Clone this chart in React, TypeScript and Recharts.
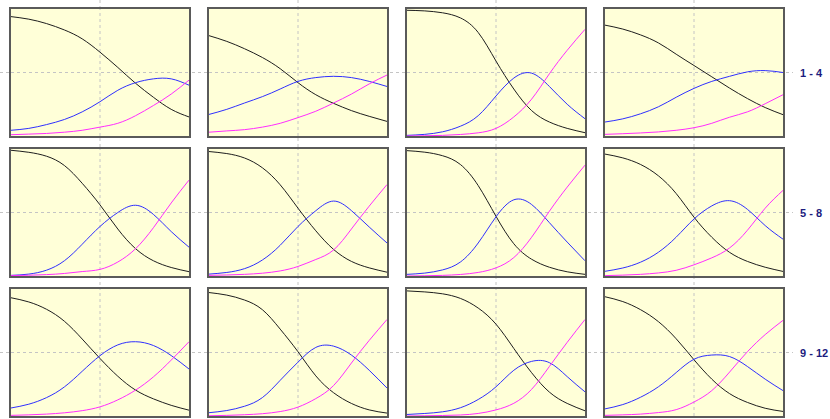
import React from "react";
import { LineChart, Line, XAxis, YAxis, ReferenceLine } from "recharts";

const X_POINTS = [0, 0.1, 0.2, 0.3, 0.4, 0.5, 0.6, 0.7, 0.8, 0.9, 1];

const BLACK = [
  [0.94, 0.92, 0.885, 0.835, 0.765, 0.66, 0.54, 0.415, 0.305, 0.21, 0.15],
  [0.79, 0.745, 0.687, 0.618, 0.53, 0.42, 0.325, 0.257, 0.2, 0.155, 0.115],
  [0.99, 0.985, 0.97, 0.93, 0.815, 0.59, 0.37, 0.2, 0.11, 0.06, 0.026],
  [0.873, 0.842, 0.796, 0.733, 0.644, 0.555, 0.466, 0.377, 0.295, 0.224, 0.168],
  [0.99, 0.974, 0.943, 0.87, 0.73, 0.56, 0.37, 0.215, 0.12, 0.067, 0.034],
  [0.98, 0.964, 0.929, 0.852, 0.718, 0.534, 0.356, 0.209, 0.115, 0.064, 0.03],
  [0.987, 0.975, 0.947, 0.878, 0.712, 0.47, 0.254, 0.132, 0.069, 0.033, 0.013],
  [0.96, 0.93, 0.878, 0.789, 0.649, 0.463, 0.305, 0.186, 0.115, 0.069, 0.036],
  [0.931, 0.898, 0.84, 0.746, 0.606, 0.453, 0.313, 0.204, 0.135, 0.084, 0.046],
  [0.972, 0.952, 0.913, 0.837, 0.684, 0.506, 0.316, 0.183, 0.099, 0.048, 0.023],
  [0.985, 0.977, 0.962, 0.926, 0.85, 0.723, 0.532, 0.341, 0.188, 0.099, 0.041],
  [0.939, 0.901, 0.837, 0.743, 0.608, 0.443, 0.29, 0.176, 0.107, 0.061, 0.036],
];

const BLUE = [
  [0.045, 0.06, 0.09, 0.13, 0.19, 0.27, 0.36, 0.42, 0.45, 0.45, 0.4],
  [0.17, 0.21, 0.26, 0.31, 0.37, 0.43, 0.46, 0.47, 0.46, 0.43, 0.39],
  [0.005, 0.013, 0.033, 0.077, 0.16, 0.315, 0.456, 0.495, 0.39, 0.25, 0.136],
  [0.11, 0.135, 0.175, 0.23, 0.305, 0.375, 0.43, 0.47, 0.505, 0.515, 0.5],
  [0.005, 0.015, 0.046, 0.12, 0.25, 0.39, 0.5, 0.557, 0.485, 0.35, 0.227],
  [0.015, 0.028, 0.058, 0.126, 0.242, 0.39, 0.514, 0.59, 0.515, 0.386, 0.26],
  [0.013, 0.023, 0.048, 0.11, 0.26, 0.466, 0.6, 0.563, 0.42, 0.267, 0.12],
  [0.037, 0.063, 0.109, 0.187, 0.306, 0.449, 0.552, 0.593, 0.525, 0.397, 0.29],
  [0.063, 0.093, 0.145, 0.229, 0.352, 0.475, 0.56, 0.585, 0.555, 0.476, 0.37],
  [0.026, 0.043, 0.077, 0.145, 0.281, 0.424, 0.54, 0.55, 0.48, 0.36, 0.22],
  [0.012, 0.02, 0.033, 0.065, 0.13, 0.23, 0.36, 0.43, 0.42, 0.31, 0.19],
  [0.056, 0.09, 0.148, 0.23, 0.342, 0.447, 0.48, 0.468, 0.39, 0.29, 0.2],
];

const MAGENTA = [
  [0.01, 0.015, 0.02, 0.03, 0.045, 0.07, 0.1, 0.16, 0.24, 0.33, 0.44],
  [0.03, 0.04, 0.05, 0.07, 0.1, 0.145, 0.195, 0.26, 0.33, 0.41, 0.48],
  [0, 0.002, 0.005, 0.012, 0.025, 0.06, 0.15, 0.29, 0.49, 0.675, 0.84],
  [0.013, 0.018, 0.024, 0.032, 0.045, 0.065, 0.1, 0.148, 0.19, 0.254, 0.325],
  [0.003, 0.006, 0.011, 0.02, 0.035, 0.052, 0.11, 0.215, 0.38, 0.575, 0.755],
  [0.005, 0.008, 0.013, 0.022, 0.04, 0.075, 0.13, 0.205, 0.37, 0.55, 0.72],
  [0, 0.002, 0.005, 0.012, 0.028, 0.064, 0.145, 0.305, 0.51, 0.7, 0.873],
  [0.003, 0.007, 0.013, 0.024, 0.045, 0.088, 0.143, 0.221, 0.36, 0.534, 0.674],
  [0.005, 0.009, 0.015, 0.025, 0.042, 0.072, 0.127, 0.204, 0.308, 0.44, 0.585],
  [0.002, 0.005, 0.01, 0.018, 0.035, 0.07, 0.137, 0.24, 0.417, 0.595, 0.76],
  [0, 0.002, 0.004, 0.008, 0.02, 0.048, 0.1, 0.21, 0.39, 0.58, 0.76],
  [0.005, 0.009, 0.015, 0.027, 0.05, 0.11, 0.2, 0.346, 0.506, 0.641, 0.753],
];

const ROW_LABELS = ["1 - 4", "5 - 8", "9 - 12"];

const PANEL_LEFT = [9, 207, 405, 603];
const PANEL_TOP = [7, 147, 287];
const PANEL_W = 182;
const PANEL_H = 131;
const BORDER = 2;
const BG = "#FFFFD8";
const GRID = "#c4c4c4";

function Panel({ index }: { index: number }) {
  const row = Math.floor(index / 4);
  const col = index % 4;
  const data = X_POINTS.map((x, i) => ({
    x,
    black: BLACK[index][i],
    blue: BLUE[index][i],
    magenta: MAGENTA[index][i],
  }));
  const w = PANEL_W - 2 * BORDER;
  const h = PANEL_H - 2 * BORDER;
  return (
    <div
      style={{
        position: "absolute",
        left: PANEL_LEFT[col],
        top: PANEL_TOP[row],
        width: PANEL_W,
        height: PANEL_H,
        boxSizing: "border-box",
        border: `${BORDER}px solid #5a5a5a`,
        background: BG,
      }}
    >
      <LineChart width={w} height={h} data={data} margin={{ top: 0, right: 0, bottom: 0, left: 0 }}>
        <XAxis dataKey="x" type="number" domain={[0, 1]} hide />
        <YAxis type="number" domain={[0, 1]} hide />
        <ReferenceLine x={0.5} stroke={GRID} strokeDasharray="3 3" />
        <ReferenceLine y={0.5} stroke={GRID} strokeDasharray="3 3" />
        <Line type="natural" dataKey="black" stroke="#1e1e1e" strokeWidth={1} dot={false} isAnimationActive={false} />
        <Line type="natural" dataKey="blue" stroke="#2f2fff" strokeWidth={1} dot={false} isAnimationActive={false} />
        <Line type="natural" dataKey="magenta" stroke="#ff2cff" strokeWidth={1} dot={false} isAnimationActive={false} />
      </LineChart>
    </div>
  );
}

export default function App() {
  const vLines = PANEL_LEFT.map((l) => l + PANEL_W / 2);
  const hLines = PANEL_TOP.map((t) => t + PANEL_H / 2);
  return (
    <div
      style={{
        position: "fixed",
        left: 0,
        top: 0,
        width: 830,
        height: 419,
        background: "#ffffff",
        overflow: "hidden",
      }}
    >
      <svg width={830} height={419} style={{ position: "absolute", left: 0, top: 0 }}>
        {vLines.map((x, i) => (
          <line key={"v" + i} x1={x} x2={x} y1={0} y2={419} stroke={GRID} strokeDasharray="3 3" />
        ))}
        {hLines.map((y, i) => (
          <line key={"h" + i} x1={0} x2={793} y1={y} y2={y} stroke={GRID} strokeDasharray="3 3" />
        ))}
      </svg>
      {BLACK.map((_, i) => (
        <Panel key={i} index={i} />
      ))}
      {ROW_LABELS.map((label, r) => (
        <div
          key={label}
          style={{
            position: "absolute",
            left: 800,
            top: PANEL_TOP[r] + PANEL_H / 2 - 7,
            height: 14,
            lineHeight: "14px",
            fontFamily: "'Liberation Sans', Arial, sans-serif",
            fontWeight: "bold",
            fontSize: 11,
            color: "#1c1c7e",
            whiteSpace: "nowrap",
          }}
        >
          {label}
        </div>
      ))}
    </div>
  );
}
